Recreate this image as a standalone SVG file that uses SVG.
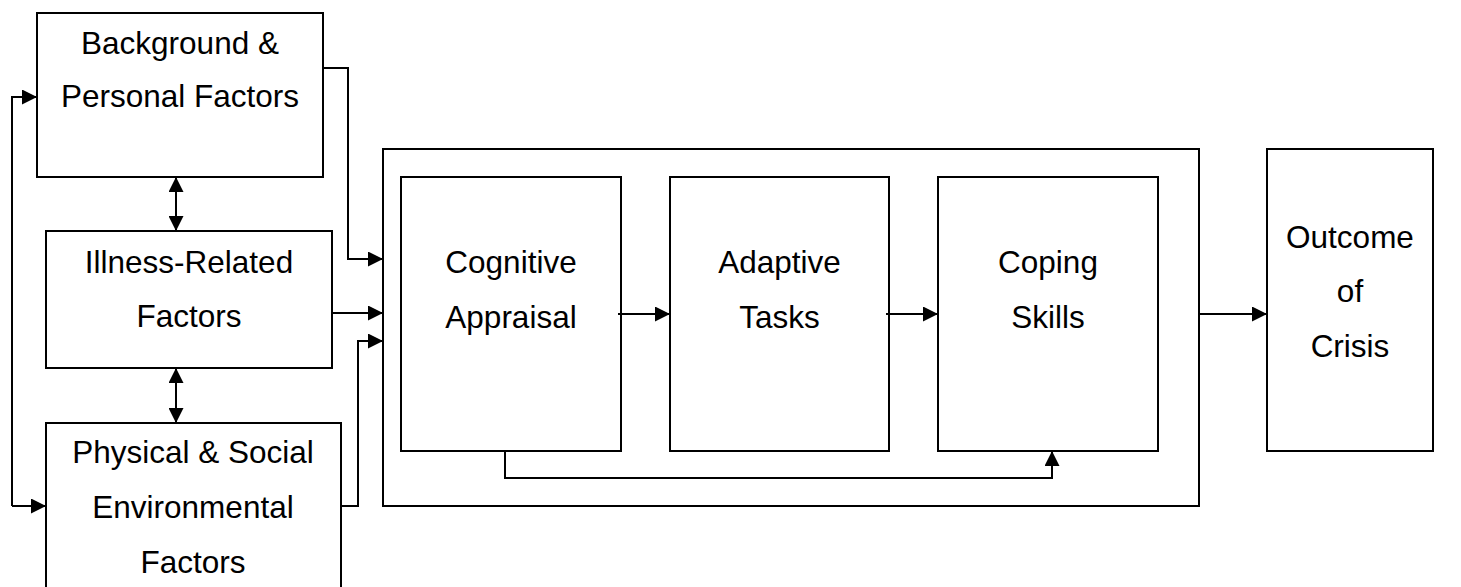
<svg xmlns="http://www.w3.org/2000/svg" width="1461" height="587" viewBox="0 0 1461 587">
<style>
.box{fill:#fff;stroke:#000;stroke-width:2}
.outer{fill:none;stroke:#000;stroke-width:2}
.t{font-family:"Liberation Sans",Arial,sans-serif;font-size:31.5px;fill:#000;text-anchor:middle}
.c{fill:none;stroke:#000;stroke-width:2}
</style>
<defs>
<marker id="ah" viewBox="0 0 15 15" refX="15" refY="7.5" markerWidth="15" markerHeight="15" markerUnits="userSpaceOnUse" orient="auto-start-reverse">
<path d="M0,0 L15,7.5 L0,15 Z" fill="#000"/>
</marker>
</defs>
<rect width="1461" height="587" fill="#fff"/>
<g id="outer-frame"><rect class="outer" x="383" y="149" width="816" height="357"/></g>
<g id="background">
<rect class="box" x="37" y="13" width="286" height="164"/>
<text class="t" x="180" y="54">Background &amp;</text>
<text class="t" x="180" y="107">Personal Factors</text>
</g>
<g id="illness">
<rect class="box" x="46" y="231" width="286" height="137"/>
<text class="t" x="189" y="273">Illness-Related</text>
<text class="t" x="189" y="327">Factors</text>
</g>
<g id="physical">
<rect class="box" x="46" y="423" width="295" height="168"/>
<text class="t" x="193" y="463">Physical &amp; Social</text>
<text class="t" x="193" y="518">Environmental</text>
<text class="t" x="193" y="573">Factors</text>
</g>
<g id="cognitive">
<rect class="box" x="401" y="177" width="220" height="274"/>
<text class="t" x="511" y="273">Cognitive</text>
<text class="t" x="511" y="328">Appraisal</text>
</g>
<g id="adaptive">
<rect class="box" x="670" y="177" width="219" height="274"/>
<text class="t" x="779.5" y="273">Adaptive</text>
<text class="t" x="779.5" y="328">Tasks</text>
</g>
<g id="coping">
<rect class="box" x="938" y="177" width="220" height="274"/>
<text class="t" x="1048" y="273">Coping</text>
<text class="t" x="1048" y="328">Skills</text>
</g>
<g id="outcome">
<rect class="box" x="1267" y="149" width="166" height="302"/>
<text class="t" x="1350" y="248">Outcome</text>
<text class="t" x="1350" y="302">of</text>
<text class="t" x="1350" y="357">Crisis</text>
</g>
<g id="connectors">
<path class="c" d="M12,506 V97 H37" marker-end="url(#ah)"/>
<path class="c" d="M12,506 H46" marker-end="url(#ah)"/>
<path class="c" d="M176,177 V231" marker-start="url(#ah)" marker-end="url(#ah)"/>
<path class="c" d="M176,368 V423" marker-start="url(#ah)" marker-end="url(#ah)"/>
<path class="c" d="M323,68 H348 V259 H383" marker-end="url(#ah)"/>
<path class="c" d="M332,313 H383" marker-end="url(#ah)"/>
<path class="c" d="M341,506 H358 V341 H383" marker-end="url(#ah)"/>
<path class="c" d="M618,314 H670" marker-end="url(#ah)"/>
<path class="c" d="M886,314 H938" marker-end="url(#ah)"/>
<path class="c" d="M1199,314 H1267" marker-end="url(#ah)"/>
<path class="c" d="M505,451 V478 H1052 V451" marker-end="url(#ah)"/>
</g>
</svg>
